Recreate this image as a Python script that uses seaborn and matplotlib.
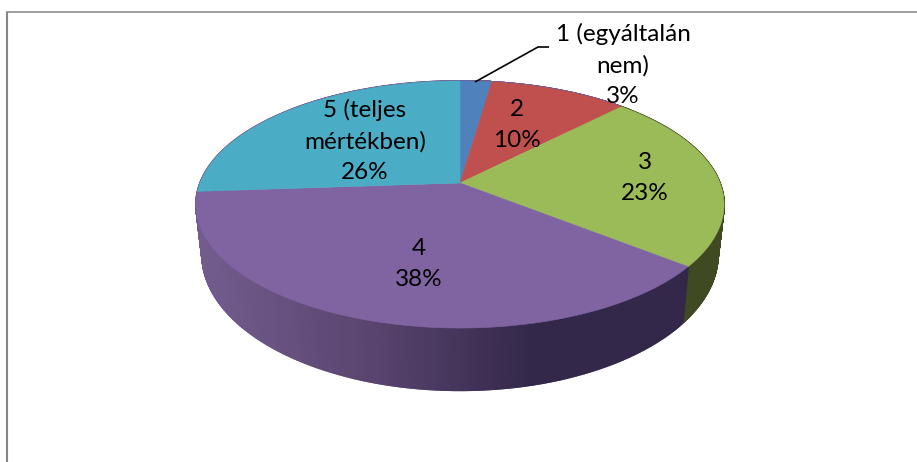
import numpy as np
import seaborn as sns
import matplotlib
matplotlib.use("Agg")
import matplotlib.pyplot as plt

# data
categories = ["1 (egyáltalán\nnem)", "2", "3", "4", "5 (teljes\nmértékben)"]
percent_labels = ["3%", "10%", "23%", "38%", "26%"]
shares = [2.3, 10.0, 23.4, 38.2, 26.1]

sns.set_theme(style="white")
plt.rcParams['font.family'] = ['Lato', 'DejaVu Sans']

palette = sns.color_palette(["#4F81BD", "#C0504D", "#9BBB59", "#8064A2", "#4BACC6"])
side_purple = sns.blend_palette(["#725c8e", "#5a4570", "#33284a", "#33284a"], 400)
side_green = "#3f4a23"

# pie geometry in pixels, k gives the perspective of the tilted disc
CX = 460
TOP_CY, TOP_A, TOP_R = 183, 119.8, 260
BOT_CY, BOT_A, BOT_R = 231, 131.6, 254
K = -0.174


def project(theta, cy, a, r):
    u, v = np.sin(theta), -np.cos(theta)
    d = 1 + K * v
    return CX + r * u / d, cy + a * v / d


fig = plt.figure(figsize=(9.17, 4.62), dpi=100, facecolor="white")
ax = fig.add_axes([0, 0, 1, 1])
ax.set_xlim(0, 917)
ax.set_ylim(462, 0)
ax.set_axis_off()

edges = np.cumsum([0] + shares) / np.sum(shares) * 2 * np.pi

# side wall first, thin quads so the shading can run along x
for i in range(len(shares)):
    t = np.linspace(edges[i], edges[i + 1], 400)
    xt, yt = project(t, TOP_CY, TOP_A, TOP_R)
    xb, yb = project(t, BOT_CY, BOT_A, BOT_R)
    for j in range(len(t) - 1):
        if categories[i] == "4":
            pos = (xt[j] - 200) / (700 - 200)
            c = side_purple[int(np.clip(pos, 0, 0.999) * len(side_purple))]
        elif categories[i] == "3":
            c = side_green
        else:
            # the other walls sit behind the top face, keep them out of sight
            c = side_purple[0]
        ax.fill([xt[j], xt[j + 1], xb[j + 1], xb[j]], [yt[j], yt[j + 1], yb[j + 1], yb[j]],
                facecolor=c, edgecolor=c, lw=1.2, zorder=2)

# top faces
for i in range(len(shares)):
    t = np.linspace(edges[i], edges[i + 1], 200)
    x, y = project(t, TOP_CY, TOP_A, TOP_R)
    ax.fill(np.r_[CX, x], np.r_[TOP_CY, y], color=palette[i], lw=0.4, zorder=3)

# leader line of the first label
ax.plot([475, 538, 549], [82, 47, 47], color="black", lw=1.2, zorder=4, solid_capstyle="butt")

# frame of the chart area, only top and left are in the crop
ax.plot([7, 7], [462, 11.5], color="#868686", lw=1.5, zorder=1, solid_capstyle="butt")
ax.plot([6, 917], [11.5, 11.5], color="#868686", lw=1.1, zorder=1, solid_capstyle="butt")

label_pos = [(623, 65), (517, 125), (645, 178), (419, 264), (365, 141)]
for name, pct, (lx, ly) in zip(categories, percent_labels, label_pos):
    ax.text(lx, ly, name + "\n" + pct, ha="center", va="center", fontsize=17.5,
            linespacing=1.56, color="black", zorder=5)

plt.savefig("out.png", dpi=100, facecolor="white")
